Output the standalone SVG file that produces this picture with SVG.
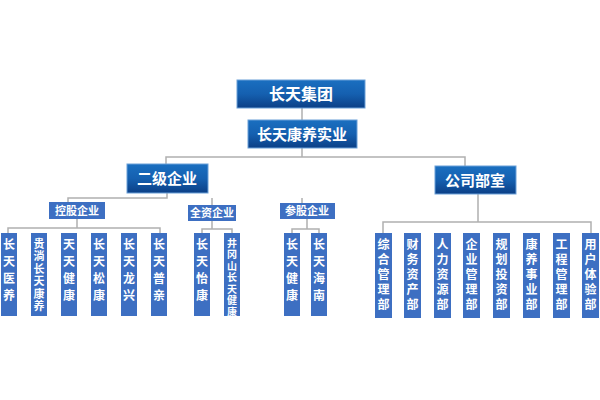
<svg xmlns="http://www.w3.org/2000/svg" width="600" height="400" viewBox="0 0 600 400">
<defs>
<linearGradient id="g" x1="0" y1="0" x2="0" y2="1"><stop offset="0" stop-color="#1a6fc0"/><stop offset="0.5" stop-color="#1560b0"/><stop offset="1" stop-color="#0b3f86"/></linearGradient>
<style>
.h{fill:url(#g);stroke:#6aa0d8;stroke-width:1}
.m{fill:#3d6fc2}
.l{fill:#3d6fc2}
.t{font-family:"Noto Sans CJK SC","Liberation Sans",sans-serif;font-weight:bold;fill:#fff;text-anchor:middle}
.v{font-family:"Noto Sans CJK SC","Liberation Sans",sans-serif;font-weight:bold;fill:#fff;writing-mode:vertical-rl;text-anchor:start}
.c{fill:none;stroke:#b0b0b0;stroke-width:1.5}
</style>
</defs>
<rect width="600" height="400" fill="#fff"/>
<g id="connectors" class="c">
<path d="M302 108V120M302 148V157M166 164V157H465V166"/>
<path d="M167 193V198H68V202M212 198V205M302 198V203"/>
<path d="M77 219V228M8 233V228H160V233"/>
<path d="M212 221V229M202 233V229H232V233"/>
<path d="M307 219V229M292 233V229H319V233"/>
<path d="M478 194V222M383 233V222H591V233"/>
</g>
<g id="n0"><rect class="h" x="237" y="80" width="128" height="28"/><text class="t" x="301" y="100" font-size="16">长天集团</text></g>
<g id="n1"><rect class="h" x="248" y="120" width="109" height="28"/><text class="t" x="302" y="140" font-size="15">长天康养实业</text></g>
<g id="n2"><rect class="h" x="127" y="164" width="81" height="29"/><text class="t" x="167" y="184" font-size="15">二级企业</text></g>
<g id="n3"><rect class="h" x="435" y="166" width="81" height="28"/><text class="t" x="475" y="186" font-size="15">公司部室</text></g>
<g id="n4"><rect class="m" x="49" y="202" width="56" height="17"/><text class="t" x="77" y="215" font-size="11">控股企业</text></g>
<g id="n5"><rect class="m" x="188" y="205" width="48" height="16"/><text class="t" x="212" y="217" font-size="11">全资企业</text></g>
<g id="n6"><rect class="m" x="280" y="203" width="55" height="16"/><text class="t" x="307" y="215" font-size="11">参股企业</text></g>
<g id="l1"><rect class="l" x="1" y="233" width="16" height="83"/><text class="v" x="9" y="238" font-size="12" letter-spacing="5">长天医养</text></g>
<g id="l2"><rect class="l" x="31" y="233" width="16" height="83"/><text class="v" x="39" y="238" font-size="11" letter-spacing="1.5">贵淌长天康养</text></g>
<g id="l3"><rect class="l" x="61" y="233" width="16" height="83"/><text class="v" x="69" y="238" font-size="12" letter-spacing="5">天天健康</text></g>
<g id="l4"><rect class="l" x="91" y="233" width="16" height="83"/><text class="v" x="99" y="238" font-size="12" letter-spacing="5">长天松康</text></g>
<g id="l5"><rect class="l" x="121" y="233" width="16" height="83"/><text class="v" x="129" y="238" font-size="12" letter-spacing="5">长天龙兴</text></g>
<g id="l6"><rect class="l" x="151" y="233" width="16" height="83"/><text class="v" x="159" y="238" font-size="12" letter-spacing="5">长天普亲</text></g>
<g id="l7"><rect class="l" x="194" y="233" width="16" height="83"/><text class="v" x="202" y="238" font-size="12" letter-spacing="5">长天怡康</text></g>
<g id="l8"><rect class="l" x="224" y="233" width="16" height="83"/><text class="v" x="232" y="238" font-size="10" letter-spacing="1.5">井冈山长天健康</text></g>
<g id="l9"><rect class="l" x="284" y="233" width="16" height="83"/><text class="v" x="292" y="238" font-size="12" letter-spacing="5">长天健康</text></g>
<g id="l10"><rect class="l" x="311" y="233" width="16" height="83"/><text class="v" x="319" y="238" font-size="12" letter-spacing="5">长天海南</text></g>
<g id="r1"><rect class="l" x="375" y="233" width="17" height="85"/><text class="v" x="383.5" y="238" font-size="12" letter-spacing="3">综合管理部</text></g>
<g id="r2"><rect class="l" x="404" y="233" width="17" height="85"/><text class="v" x="412.5" y="238" font-size="12" letter-spacing="3">财务资产部</text></g>
<g id="r3"><rect class="l" x="434" y="233" width="17" height="85"/><text class="v" x="442.5" y="238" font-size="12" letter-spacing="3">人力资源部</text></g>
<g id="r4"><rect class="l" x="463" y="233" width="17" height="85"/><text class="v" x="471.5" y="238" font-size="12" letter-spacing="3">企业管理部</text></g>
<g id="r5"><rect class="l" x="493" y="233" width="17" height="85"/><text class="v" x="501.5" y="238" font-size="12" letter-spacing="3">规划投资部</text></g>
<g id="r6"><rect class="l" x="523" y="233" width="17" height="85"/><text class="v" x="531.5" y="238" font-size="12" letter-spacing="3">康养事业部</text></g>
<g id="r7"><rect class="l" x="553" y="233" width="17" height="85"/><text class="v" x="561.5" y="238" font-size="12" letter-spacing="3">工程管理部</text></g>
<g id="r8"><rect class="l" x="582" y="233" width="17" height="85"/><text class="v" x="590.5" y="238" font-size="12" letter-spacing="3">用户体验部</text></g>
</svg>
